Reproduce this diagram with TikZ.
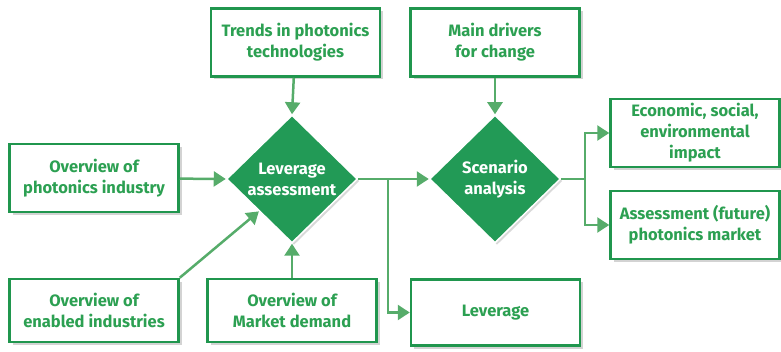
\documentclass[tikz,border=0pt]{standalone}
\usepackage{fontspec}
\setmainfont{Fira Sans}
\usetikzlibrary{shapes.geometric,arrows.meta,shadows}
\definecolor{boxgreen}{RGB}{32,150,78}
\definecolor{textgreen}{RGB}{44,160,82}
\definecolor{arrowgreen}{RGB}{86,172,106}
\definecolor{diagreen}{RGB}{34,154,86}
\begin{document}
\begin{tikzpicture}[x=1pt,y=-1pt,
        box/.style={rectangle, draw=boxgreen, line width=2.5pt, fill=white, minimum width=169pt, minimum height=68pt, inner sep=2pt, align=center, text=textgreen, font=\bfseries\fontsize{16.5}{21}\selectfont, drop shadow={shadow xshift=3pt, shadow yshift=-3pt, opacity=.35}},
        decision/.style={diamond, fill=diagreen, draw=white, line width=1.5pt, minimum width=131pt, minimum height=128pt, inner sep=0pt, align=center, text=white, font=\bfseries\fontsize{16.5}{21}\selectfont, drop shadow={shadow xshift=2pt, shadow yshift=-2pt, opacity=.3}},
        flow/.style={draw=arrowgreen, line width=2.5pt, -{Triangle[width=15pt,length=12pt]}}]
        \useasboundingbox (0,0) rectangle (781,352);

        \node (trends) at (295.5,42.5) [box] {Trends in photonics\\technologies};
        \node (drivers) at (495,42.5) [box] {Main drivers\\for change};
        \node (industry) at (94,178) [box] {Overview of\\photonics industry};
        \node (enabled) at (94,310.5) [box, minimum height=63pt] {Overview of\\enabled industries};
        \node (demand) at (292,310.5) [box, minimum height=63pt] {Overview of\\Market demand};
        \node (leverage) at (495.5,312.5) [box, minimum height=66pt] {Leverage};
        \node (impact) at (695,133) [box] {Economic, social,\\environmental\\impact};
        \node (market) at (695,225) [box] {Assessment (future)\\photonics market};

        \node (levass) at (292,179) [decision] {Leverage\\assessment};
        \node (scen) at (495,179) [decision] {Scenario\\analysis};

        \draw[flow] (trends) -- (levass.north);
        \draw[flow] (drivers) -- (scen.north);
        \draw[flow] (industry) -- (levass.west);
        \draw[flow] (enabled.north east) -- (levass.south west);
        \draw[flow] (demand) -- (levass.south);

        \coordinate (split1) at (388,179);
        \draw[flow] (levass.east) -- (scen.west);
        \draw[flow] (split1) |- (leverage.west);

        \coordinate (split2) at (585,179);
        \draw[flow] (scen.east) -- (split2) |- (impact.west);
        \draw[flow] (split2) |- (market.west);
\end{tikzpicture}
\end{document}
